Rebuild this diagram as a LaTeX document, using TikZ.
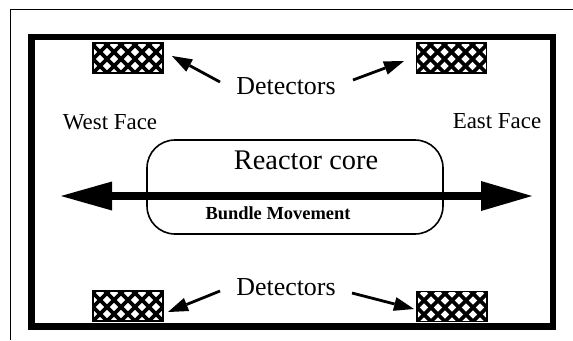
\documentclass[tikz,border=0pt]{standalone}
\usepackage{fontspec}
\setmainfont{Liberation Serif}
\usetikzlibrary{arrows.meta}
\begin{document}
\begin{tikzpicture}[x=1bp,y=-1bp,
  frame/.style={line width=6.5bp},
  thinframe/.style={line width=1.6bp},
  hatch/.style={line width=3.6bp},
  detbox/.style={draw, line width=1.6bp, minimum width=70bp, minimum height=30bp, inner sep=0pt,
    path picture={
      \foreach \k in {-3,...,8}{
        \draw[hatch] ([xshift=\k*14bp]path picture bounding box.south west) -- ++(40bp,40bp);
        \draw[hatch] ([xshift=\k*14bp]path picture bounding box.south west) -- ++(-40bp,40bp);
      }
    }},
  corebox/.style={draw, line width=1.6bp, rounded corners=28bp, minimum width=296bp, minimum height=94bp, inner sep=0pt},
  bigarrow/.style={line width=8bp, {Triangle[length=51bp,width=29bp,line width=0pt]}-{Triangle[length=51bp,width=30bp,line width=0pt]}},
  detarrow/.style={line width=2.8bp, -{Triangle[length=20bp,width=14bp,line width=0pt]}},
  lbl/.style={inner sep=0pt, anchor=base},
]
\useasboundingbox (0,0) rectangle (573,340);
% frames
\draw[thinframe] (10.5,340) -- (10.5,9.5) -- (573,9.5);
\draw[frame] (31.5,37) rectangle (553,326.5);
% detectors
\node[detbox] (dtl) at (128,58) {};
\node[detbox] (dtr) at (451.5,58) {};
\node[detbox] (dbl) at (128,306) {};
\node[detbox] (dbr) at (452,306.5) {};
% reactor core
\node[corebox] (core) at (295,187) {};
% labels
\node[lbl, font=\fontsize{26}{30}\selectfont] (dtop) at (286,94) {Detectors};
\node[lbl, font=\fontsize{26}{30}\selectfont] (dbot) at (286,295) {Detectors};
\node[lbl, font=\fontsize{23}{27}\selectfont] (west) at (110,129.5) {West Face};
\node[lbl, font=\fontsize{23}{27}\selectfont] (east) at (497,128.5) {East Face};
\node[lbl, font=\fontsize{28.5}{32}\selectfont] (rc) at (306,169) {Reactor core};
\node[lbl, font=\bfseries\fontsize{18.5}{22}\selectfont] (bm) at (278,219.5) {Bundle Movement};
% main arrow
\coordinate (wtip) at (61,196);
\coordinate (etip) at (532,196);
\draw[bigarrow] (wtip) -- (etip);
% detector arrows
\coordinate (tltail) at (220,82);  \coordinate (tltip) at (172,56);
\coordinate (trtail) at (353,80);  \coordinate (trtip) at (404,61);
\coordinate (bltail) at (220,291); \coordinate (bltip) at (168,312);
\coordinate (brtail) at (352,293); \coordinate (brtip) at (414,309);
\draw[detarrow] (tltail) -- (tltip);
\draw[detarrow] (trtail) -- (trtip);
\draw[detarrow] (bltail) -- (bltip);
\draw[detarrow] (brtail) -- (brtip);
\end{tikzpicture}
\end{document}
